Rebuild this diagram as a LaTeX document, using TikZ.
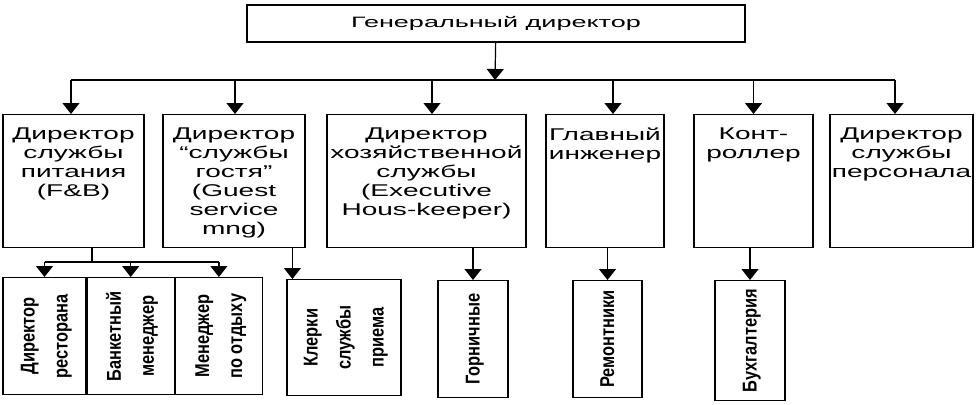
\documentclass[tikz,border=0pt]{standalone}
\usepackage{fontspec}
\setmainfont{Liberation Sans}
\newfontfamily\titlefont[FakeStretch=1.8]{Liberation Sans}
\newfontfamily\widefont[FakeStretch=1.65]{Liberation Sans}
\newfontfamily\narrowfont[FakeStretch=0.82]{Liberation Sans}
\usetikzlibrary{arrows.meta,positioning}
\newcommand{\vlab}[1]{\rotatebox{90}{\begin{tabular}{@{}c@{}}#1\end{tabular}}}

\begin{document}
\begin{tikzpicture}[
  x=1pt,y=-1pt,
  box/.style={draw,line width=1.2pt,inner sep=0pt},
  headbox/.style={box,minimum width=498pt,minimum height=37pt,font=\titlefont\fontsize{15}{18}\selectfont},
  deptbox/.style={box,minimum height=133pt,anchor=north},
  depttext/.style={anchor=north,align=center,inner sep=0pt,font=\widefont\fontsize{17}{19}\selectfont},
  unitbox/.style={box,minimum height=117pt,anchor=north,font=\narrowfont\bfseries\fontsize{20}{33}\selectfont},
  arrow/.style={-{Triangle[width=17pt,length=11pt]},line width=1.2pt},
  link/.style={line width=1.2pt}
]
\useasboundingbox (0,0) rectangle (976,404);

\node[headbox] (gm) at (496,23.5) {Генеральный директор};
\coordinate (bus) at (495,80);

% second level
\node[deptbox,minimum width=141pt] (fb) at (73.5,114) {};
\node[depttext] (fbt) at ([yshift=-14pt]fb.north) {Директор\\службы\\питания\\(F\&B)};
\node[deptbox,minimum width=142pt] (gs) at (234,114) {};
\node[depttext] (gst) at ([yshift=-14pt]gs.north) {Директор\\“службы\\гостя”\\(Guest\\service\\mng)};
\node[deptbox,minimum width=199pt] (hk) at (426.5,114) {};
\node[depttext] (hkt) at ([yshift=-14pt]hk.north) {Директор\\хозяйственной\\службы\\(Executive\\Hous-keeper)};
\node[deptbox,minimum width=118pt] (ce) at (605,114) {};
\node[depttext] (cet) at ([yshift=-14pt]ce.north) {Главный\\инженер};
\node[deptbox,minimum width=119pt] (ctl) at (753.5,114) {};
\node[depttext] (ctlt) at ([yshift=-14pt]ctl.north) {Конт-\\роллер};
\node[deptbox,minimum width=143pt] (hr) at (901.5,114) {};
\node[depttext] (hrt) at ([yshift=-14pt]hr.north) {Директор\\службы\\персонала};

% third level
\node[unitbox,minimum width=83pt] (rest) at (44.5,277) {\vlab{Директор\\ресторана}};
\node[unitbox,minimum width=87pt,right=0pt of rest] (banq) {\vlab{Банкетный\\менеджер}};
\node[unitbox,minimum width=87pt,right=0pt of banq] (leis) {\vlab{Менеджер\\по отдыху}};
\node[unitbox,minimum width=114pt,minimum height=116pt] (clerks) at (344,279) {\vlab{Клерки\\службы\\приема}};
\node[unitbox,minimum width=70pt] (maid) at (473,280) {\vlab{Горничные}};
\node[unitbox,minimum width=69pt] (rep) at (607.5,280) {\vlab{Ремонтники}};
\node[unitbox,minimum width=70pt,minimum height=120pt] (acct) at (750,280) {\vlab{Бухгалтерия}};

\draw[arrow] (gm) -- (bus);
% drop points on the bus
\foreach \n/\dx in {fb/-2.5,gs/1,hk/5.5,ce/8,ctl/0,hr/-6.5}
  \coordinate (in-\n) at ([xshift=\dx pt]\n.north);
\draw[link] (in-fb |- bus) -- (in-hr |- bus);
\foreach \n in {fb,gs,hk,ce,ctl,hr}
  \draw[arrow] (in-\n |- bus) -- (in-\n);

\coordinate (split) at (92,262);
\draw[link] (fb.south -| split) -- (split);
\draw[link] (rest.north |- split) -- (leis.north |- split);
\foreach \n in {rest,banq,leis}
  \draw[arrow] (\n.north |- split) -- (\n.north);

\coordinate (clkin) at ([xshift=6pt]clerks.north west);
\draw[arrow] (gs.south -| clkin) -- (clkin);
\draw[arrow] (hk.south -| maid.north) -- (maid.north);
\draw[arrow] (ce.south -| rep.north) -- (rep.north);
\draw[arrow] (ctl.south -| acct.north) -- (acct.north);
\end{tikzpicture}
\end{document}
